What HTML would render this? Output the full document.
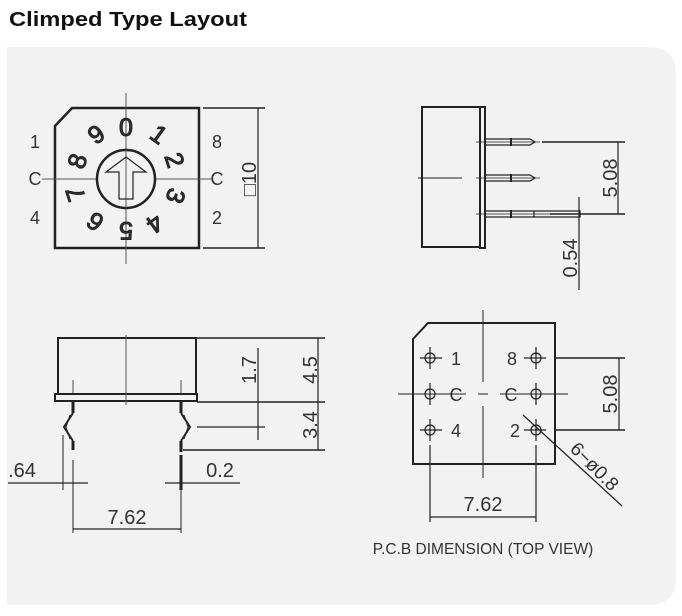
<!DOCTYPE html>
<html><head><style>
html,body{margin:0;padding:0;background:#fff;width:682px;height:616px;overflow:hidden}
svg{display:block}
text{font-family:"Liberation Sans",sans-serif;fill:#333}
</style></head><body>
<svg width="682" height="616" viewBox="0 0 682 616">
<text x="9" y="26" font-size="20" font-weight="bold" textLength="238" lengthAdjust="spacingAndGlyphs" style="fill:#111">Climped Type Layout</text>
<path d="M7 47 H648 Q676 47 676 75 V578 Q676 605 648 605 H7 Z" fill="#f2f2f2"/>
<g stroke="#222" fill="none">
<path d="M55 126 L72 108 H199 V248 H55 Z" stroke-width="2.5"/>
<line x1="126" y1="93" x2="126" y2="264" stroke-width="1" stroke="#555"/>
<line x1="42" y1="179" x2="212" y2="179" stroke-width="1" stroke="#555"/>
<circle cx="126" cy="179" r="29" stroke-width="2.5" fill="#f2f2f2"/>
<line x1="126" y1="150" x2="126" y2="208" stroke-width="1" stroke="#555"/>
<path d="M126 157 L146 172 H133 V199 H119 V172 H106 Z" stroke-width="1.2"/>
<line x1="203" y1="108" x2="265" y2="108" stroke-width="1.5"/>
<line x1="203" y1="248" x2="265" y2="248" stroke-width="1.5"/>
<line x1="258" y1="108" x2="258" y2="248" stroke-width="1.2"/>
<rect x="422" y="107" width="58" height="140" stroke-width="2"/>
<rect x="480" y="107" width="5" height="141" stroke-width="2"/>
<line x1="418" y1="178" x2="462" y2="178" stroke-width="1"/>
<g stroke-width="1.2">
<path d="M485 139 H530 L535 142 L530 145 H485"/>
<path d="M485 175 H530 L535 178 L530 181 H485"/>
<path d="M485 211 H534 V217 H485"/>
<path d="M534 211 H580 V217 H534"/>
<line x1="476" y1="142" x2="540" y2="142" stroke-width="0.8"/>
<line x1="476" y1="178" x2="540" y2="178" stroke-width="0.8"/>
<line x1="476" y1="214" x2="580" y2="214" stroke-width="0.8"/>
<line x1="511" y1="138" x2="511" y2="146" stroke-width="2"/>
<line x1="511" y1="174" x2="511" y2="182" stroke-width="2"/>
<line x1="511" y1="210" x2="511" y2="218" stroke-width="2"/>
</g>
<line x1="542" y1="142" x2="625" y2="142" stroke-width="1.5"/>
<line x1="550" y1="214" x2="625" y2="214" stroke-width="1.5"/>
<line x1="618" y1="142" x2="618" y2="214" stroke-width="1.2"/>
<line x1="579" y1="197" x2="579" y2="290" stroke-width="1.2"/>
<rect x="58" y="338" width="138" height="56" stroke-width="2"/>
<rect x="55" y="394" width="142" height="7" stroke-width="2"/>
<line x1="126" y1="335" x2="126" y2="405" stroke-width="1" stroke="#555"/>
<line x1="73" y1="380" x2="73" y2="395" stroke-width="0.8"/>
<line x1="181" y1="380" x2="181" y2="395" stroke-width="0.8"/>
<g stroke-width="3">
<line x1="73" y1="401" x2="73" y2="413"/><line x1="73" y1="441" x2="73" y2="450"/>
<line x1="181" y1="401" x2="181" y2="413"/><line x1="181" y1="441" x2="181" y2="452"/>
<line x1="181" y1="455" x2="181" y2="490"/>
</g>
<path d="M73 413 L64 427 L73 441" stroke-width="2"/>
<path d="M70 415 L66 427 L70 439" stroke-width="1"/>
<path d="M181 413 L190 427 L181 441" stroke-width="2"/>
<path d="M184 415 L188 427 L184 439" stroke-width="1"/>
<line x1="196" y1="338" x2="325" y2="338" stroke-width="1.5"/>
<line x1="197" y1="402" x2="325" y2="402" stroke-width="1.5"/>
<line x1="183" y1="450" x2="325" y2="450" stroke-width="1.5"/>
<line x1="318" y1="338" x2="318" y2="450" stroke-width="1.2"/>
<line x1="258" y1="348" x2="258" y2="440" stroke-width="1.2"/>
<line x1="197" y1="427" x2="265" y2="427" stroke-width="1.2"/>
<line x1="8" y1="483" x2="88" y2="483" stroke-width="1.2"/>
<line x1="165" y1="483" x2="240" y2="483" stroke-width="1.2"/>
<line x1="63" y1="435" x2="63" y2="490" stroke-width="1"/>
<line x1="73" y1="460" x2="73" y2="533" stroke-width="1"/>
<line x1="181" y1="490" x2="181" y2="533" stroke-width="1"/>
<line x1="73" y1="529" x2="181" y2="529" stroke-width="1.2"/>
<path d="M413 339 L428 323 H555 V464 H413 Z" stroke-width="2"/>
<line x1="483" y1="310" x2="483" y2="382" stroke-width="1"/>
<line x1="483" y1="406" x2="483" y2="478" stroke-width="1"/>
<line x1="478" y1="394" x2="488" y2="394" stroke-width="1"/>
<line x1="398" y1="394" x2="466" y2="394" stroke-width="1"/>
<line x1="500" y1="394" x2="568" y2="394" stroke-width="1"/>
<g stroke-width="1.2">
<circle cx="430" cy="358" r="5"/><circle cx="430" cy="394" r="5"/><circle cx="430" cy="430" r="5"/>
<circle cx="536" cy="358" r="5"/><circle cx="536" cy="394" r="5"/><circle cx="536" cy="430" r="5"/>
<path d="M420 358 H442 M430 347 V369 M420 430 H442 M430 419 V441 M430 383 V405"/>
<path d="M524 358 H546 M536 347 V369 M524 430 H546 M536 419 V441 M536 383 V405"/>
</g>
<line x1="555" y1="358" x2="625" y2="358" stroke-width="1.5"/>
<line x1="555" y1="430" x2="625" y2="430" stroke-width="1.5"/>
<line x1="619" y1="358" x2="619" y2="430" stroke-width="1.2"/>
<line x1="523" y1="415" x2="622" y2="506" stroke-width="1.2"/>
<line x1="430" y1="445" x2="430" y2="522" stroke-width="1.2"/>
<line x1="536" y1="445" x2="536" y2="522" stroke-width="1.2"/>
<line x1="430" y1="517" x2="536" y2="517" stroke-width="1.2"/>
</g>
<g font-size="18" text-anchor="middle">
<text x="35" y="148">1</text><text x="35" y="185">C</text><text x="35" y="224">4</text>
<text x="217" y="148">8</text><text x="217" y="185">C</text><text x="217" y="224">2</text>
<text transform="translate(249,179) rotate(-90)" y="7" font-size="20">□10</text>
<text transform="translate(610,178) rotate(-90)" y="7" font-size="20">5.08</text>
<text transform="translate(570,258) rotate(-90)" y="7" font-size="20">0.54</text>
<text transform="translate(310,370) rotate(-90)" y="7" font-size="20">4.5</text>
<text transform="translate(310,425) rotate(-90)" y="7" font-size="20">3.4</text>
<text transform="translate(249,370) rotate(-90)" y="7" font-size="20">1.7</text>
<text x="22" y="477" font-size="20">.64</text>
<text x="220" y="477" font-size="20">0.2</text>
<text x="127" y="524" font-size="20">7.62</text>
<text x="456" y="365">1</text><text x="512" y="365">8</text>
<text x="456" y="401">C</text><text x="511" y="401">C</text>
<text x="456" y="437">4</text><text x="515" y="437">2</text>
<text transform="translate(610,394) rotate(-90)" y="7" font-size="20">5.08</text>
<text x="483" y="511" font-size="20">7.62</text>
<text transform="translate(595,466) rotate(45)" y="7" font-size="19">6−ø0.8</text>
</g>
<text x="483" y="554" font-size="15.5" text-anchor="middle">P.C.B DIMENSION (TOP VIEW)</text>
<g font-size="25" text-anchor="middle" style="fill:#222;stroke:#222;stroke-width:1">
<text transform="translate(126,127)" y="9">0</text>
<text transform="translate(159,134) rotate(36)" y="9">1</text>
<text transform="translate(175,160) rotate(72)" y="9">2</text>
<text transform="translate(176,196) rotate(108)" y="9">3</text>
<text transform="translate(155,224) rotate(144)" y="9">4</text>
<text transform="translate(126,231) rotate(180)" y="9">5</text>
<text transform="translate(95,222) rotate(216)" y="9">6</text>
<text transform="translate(75,194) rotate(252)" y="9">7</text>
<text transform="translate(77,161) rotate(288)" y="9">8</text>
<text transform="translate(96,134) rotate(324)" y="9">9</text>
</g>
</svg>
</body></html>
